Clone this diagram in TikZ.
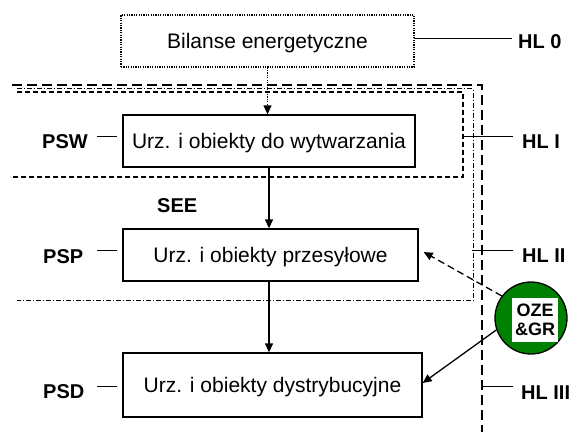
\documentclass[tikz,border=0pt]{standalone}
\usepackage{fontspec}
\setmainfont{Liberation Sans}
\usetikzlibrary{arrows.meta}
\definecolor{ozegreen}{RGB}{0,128,0}
\begin{document}
\begin{tikzpicture}[x=1pt,y=-1pt,
  unitbox/.style={draw, line width=1.3pt, inner sep=0pt, minimum height=52pt,
    font=\fontsize{21}{24}\selectfont, text height=15pt, text depth=0pt},
  lbl/.style={inner sep=0pt, anchor=base west, font=\fontsize{20}{22}\selectfont\bfseries},
  tick/.style={line width=1pt},
  flow/.style={line width=1.3pt, -{Triangle[length=9pt,width=8pt]}},
  levelI/.style={line width=1.2pt, dash pattern=on 5pt off 3pt},
  levelII/.style={line width=1pt, dash pattern=on 5pt off 2pt on 1pt off 2pt},
  levelIII/.style={line width=1.5pt, dash pattern=on 10pt off 5pt},
  dots/.style={line width=1.2pt, dash pattern=on 1.2pt off 1.2pt}
]
\useasboundingbox (0,0) rectangle (569,432);

% nested level boundaries HL I, HL II, HL III
\draw[levelIII] (12,85) -- (482,85) -- (482,432);
\draw[levelII] (17,88.5) -- (473,88.5) -- (473,300) -- (17,300);
\draw[levelI] (17,92) -- (463,92) -- (463,177) -- (10,177);

% boxes
\node[unitbox, dots, minimum width=293pt] (bil) at (267.5,41) {Bilanse energetyczne};
\node[unitbox, minimum width=292pt] (psw) at (269,141) {Urz. i obiekty do wytwarzania};
\node[unitbox, minimum width=295pt] (psp) at (270.5,255) {Urz. i obiekty przesyłowe};
\node[unitbox, minimum width=299pt, minimum height=64pt] (psd) at (272.5,385) {Urz. i obiekty dystrybucyjne};

% renewable sources and generation
\node[circle, draw, fill=ozegreen, line width=1.3pt, minimum size=72pt, inner sep=0pt] (oze) at (531,318) {};
\node[fill=white, inner sep=0pt, minimum width=46pt, minimum height=44pt, align=center,
  font=\fontsize{18}{19.5}\selectfont\bfseries] (ozel) at (535,320) {OZE\\\&GR};

% flows between the levels
\draw[flow, dots] (bil.south) -- (bil.south |- psw.north);
\draw[flow] (psw.south) -- (psw.south |- psp.north);
\draw[flow] (psp.south -| psw.south) -- (psw.south |- psd.north);
\coordinate (pspin) at ([shift={(5,-3)}]psp.east);
\coordinate (psdin) at ([shift={(0,-2)}]psd.east);
\draw[line width=1.3pt, dash pattern=on 7pt off 4pt, -{Triangle[length=9pt,width=8pt]}] (oze.143) -- (pspin);
\draw[line width=1.3pt, -{Triangle[length=9pt,width=8pt]}] (oze.199) -- (psdin);

% left-hand labels
\node[lbl] (pswl) at (42,148) {PSW};
\node[lbl] (see) at (157,212) {SEE};
\node[lbl] (pspl) at (43,263) {PSP};
\node[lbl] (psdl) at (43,398) {PSD};
\coordinate (pswa) at (97,136); \coordinate (pswb) at (117,136);
\coordinate (pspa) at (97,250); \coordinate (pspb) at (117,250);
\coordinate (psda) at (97,386); \coordinate (psdb) at (117,386);
\draw[tick] (pswa) -- (pswb);
\draw[tick] (pspa) -- (pspb);
\draw[tick] (psda) -- (psdb);

% right-hand level labels
\node[lbl] (hl0) at (518,48) {HL 0};
\node[lbl] (hl1) at (522,148) {HL I};
\node[lbl] (hl2) at (522,262) {HL II};
\node[lbl] (hl3) at (521,399) {HL III};
\coordinate (h0a) at (414,38);  \coordinate (h0b) at (512,38);
\coordinate (h1a) at (462,136); \coordinate (h1b) at (513,136);
\coordinate (h2a) at (472,250); \coordinate (h2b) at (513,250);
\coordinate (h3a) at (482,386); \coordinate (h3b) at (513,386);
\draw[tick] (h0a) -- (h0b);
\draw[tick] (h1a) -- (h1b);
\draw[tick] (h2a) -- (h2b);
\draw[tick] (h3a) -- (h3b);
\end{tikzpicture}
\end{document}
